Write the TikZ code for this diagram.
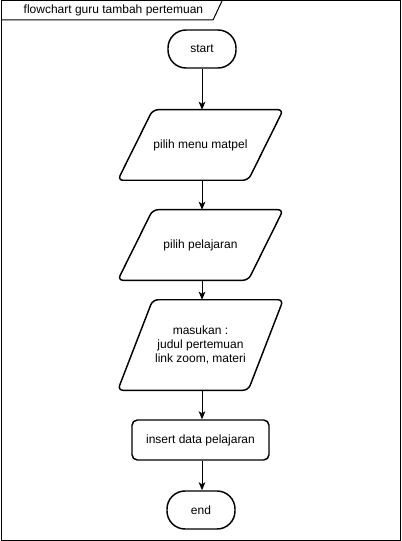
\documentclass[tikz,border=0pt]{standalone}
\usepackage{fontspec}
\setmainfont{Liberation Sans}
\usetikzlibrary{arrows.meta}
\begin{document}
\begin{tikzpicture}[x=0.75pt,y=-0.75pt,
  every node/.style={font=\fontsize{9}{10.5}\selectfont},
  shp/.style={draw,line width=1.1pt,inner sep=0pt},
  term/.style={shp,rounded corners=13.5pt,minimum width=51pt,minimum height=28.5pt},
  proc/.style={shp,rounded corners=4pt,minimum width=102.75pt,minimum height=30pt},
  iobox/.style={inner sep=0pt,minimum width=97.5pt},
  ioedge/.style={line width=1.1pt,rounded corners=4pt},
  flow/.style={-{Stealth[length=6pt,width=5pt,inset=1.5pt]},line width=0.75pt}]
\useasboundingbox (0,0) rectangle (402,541);
% frame with title tab
\draw[line width=0.75pt] (1,1) rectangle (400.5,540);
\draw[line width=0.75pt] (1,20) -- (213,20) -- (222,1);
\node[anchor=west] (title) at (19,10.5) {flowchart guru tambah pertemuan};
% flow steps
\node[term] (start) at (202,49) {start};
\node[iobox,minimum height=52.5pt] (matpel) at (200.5,145) {pilih menu matpel};
\node[iobox,minimum height=52.5pt] (pel) at (200.5,245) {pilih pelajaran};
\node[iobox,minimum height=67.5pt,align=center] (input) at (200.5,345)
  {masukan :\\judul pertemuan\\link zoom, materi};
\foreach \n in {matpel,pel,input}
  \draw[ioedge] ([xshift=13.125pt]\n.north west) -- ([xshift=13.125pt]\n.north east)
    -- ([xshift=-13.125pt]\n.south east) -- ([xshift=-13.125pt]\n.south west) -- cycle;
\node[proc] (insert) at (200.5,440) {insert data pelajaran};
\node[term] (end) at (201,510) {end};
% connectors
\draw[flow] (start) -- (matpel.north -| start);
\draw[flow] (matpel.south -| start) -- (pel.north -| start);
\draw[flow] (pel.south -| start) -- (input.north -| start);
\draw[flow] (input.south -| start) -- (insert.north -| start);
\draw[flow] (insert.south -| start) -- (end.north -| start);
\end{tikzpicture}
\end{document}
